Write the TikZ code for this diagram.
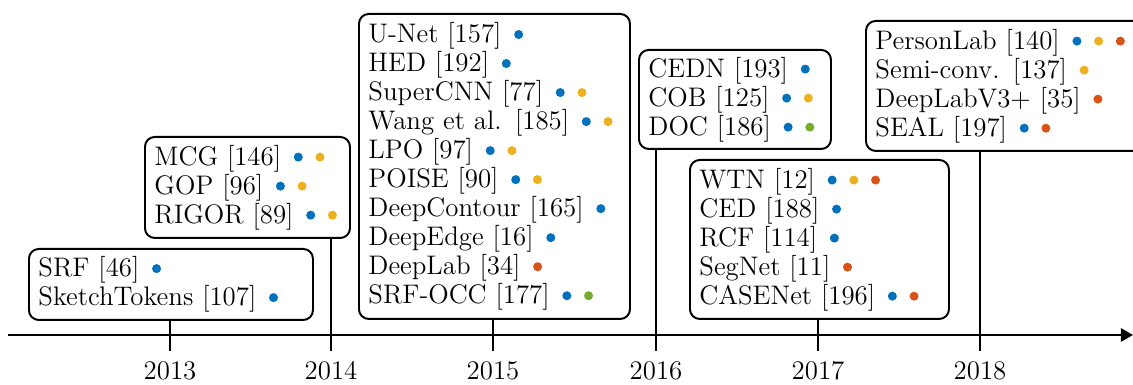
\documentclass[tikz,border=0pt]{standalone}
\usepackage{xcolor}
\usepackage{tikz}
\usetikzlibrary{arrows.meta}
\definecolor{dotblue}{RGB}{0, 114, 189}
\definecolor{dotyellow}{RGB}{237, 177, 32}
\definecolor{dotred}{RGB}{217, 83, 25}
\definecolor{dotgreen}{RGB}{119, 172, 48}
\newcommand{\px}{0.41pt}
\newcommand{\methoddot}[1]{\hspace{5.2pt}\tikz[baseline=-3.3pt]\fill[#1, draw=none] (0,0) circle (1.85pt);}
\newcommand{\dotb}{\methoddot{dotblue}}
\newcommand{\doty}{\methoddot{dotyellow}}
\newcommand{\dotr}{\methoddot{dotred}}
\newcommand{\dotg}{\methoddot{dotgreen}}

\begin{document}
\begin{tikzpicture}[x=0.41pt, y=0.41pt]
\tikzset{
  epoch/.style 2 args={draw, line width=0.8pt, rounded corners=4pt, anchor=north west,
    inner xsep=9.5*\px, inner ysep=0pt, text width={(#1-19)*\px}, minimum height={#2*\px},
    align=left, font=\fontsize{11}{11.9}\selectfont},
  yearlbl/.style={anchor=base, inner sep=0pt, font=\fontsize{11}{11.9}\selectfont},
  tick/.style={line width=0.8pt},
  axis/.style={line width=0.8pt, -{Triangle[length=5pt, width=5.5pt]}}
}
\useasboundingbox (0,0) rectangle (1133,385);
% time axis
\coordinate (start) at (8,50);
\coordinate (end)   at (1133,50);
\draw[axis] (start) -- (end);
% tick ends below the axis
\coordinate (t13) at (170,34);
\coordinate (t14) at (331,34);
\coordinate (t15) at (493,34);
\coordinate (t16) at (656,34);
\coordinate (t17) at (818,34);
\coordinate (t18) at (980,34);
\node[yearlbl] (y13) at (170,5) {2013};
\node[yearlbl] (y14) at (331,5) {2014};
\node[yearlbl] (y15) at (493,5) {2015};
\node[yearlbl] (y16) at (656,5) {2016};
\node[yearlbl] (y17) at (818,5) {2017};
\node[yearlbl] (y18) at (980,5) {2018};
% method boxes
\node[epoch={284}{71}] (b13) at (28,137) {SRF [46]\dotb\\
  SketchTokens [107]\dotb};
\node[epoch={205}{101}] (b14) at (144,249) {MCG [146]\dotb\doty\\
  GOP [96]\dotb\doty\\
  RIGOR [89]\dotb\doty};
\node[epoch={271}{305}] (b15) at (358,372) {U-Net [157]\dotb\\
  HED [192]\dotb\\
  SuperCNN [77]\dotb\doty\\
  Wang et al. [185]\dotb\doty\\
  LPO [97]\dotb\doty\\
  POISE [90]\dotb\doty\\
  DeepContour [165]\dotb\\
  DeepEdge [16]\dotb\\
  DeepLab [34]\dotr\\
  SRF-OCC [177]\dotb\dotg};
\node[epoch={192}{99}] (b16) at (638,336) {CEDN [193]\dotb\\
  COB [125]\dotb\doty\\
  DOC [186]\dotb\dotg};
\node[epoch={259}{159}] (b17) at (689,226) {WTN [12]\dotb\doty\dotr\\
  CED [188]\dotb\\
  RCF [114]\dotb\\
  SegNet [11]\dotr\\
  CASENet [196]\dotb\dotr};
\node[epoch={278}{130}] (b18) at (865,365) {PersonLab [140]\dotb\doty\dotr\\
  Semi-conv. [137]\doty\\
  DeepLabV3+ [35]\dotr\\
  SEAL [197]\dotb\dotr};
% ticks from boxes to axis
\draw[tick] (b13.south -| t13) -- (t13);
\draw[tick] (b14.south -| t14) -- (t14);
\draw[tick] (b15.south -| t15) -- (t15);
\draw[tick] (b16.south -| t16) -- (t16);
\draw[tick] (b17.south -| t17) -- (t17);
\draw[tick] (b18.south -| t18) -- (t18);
\end{tikzpicture}
\end{document}
